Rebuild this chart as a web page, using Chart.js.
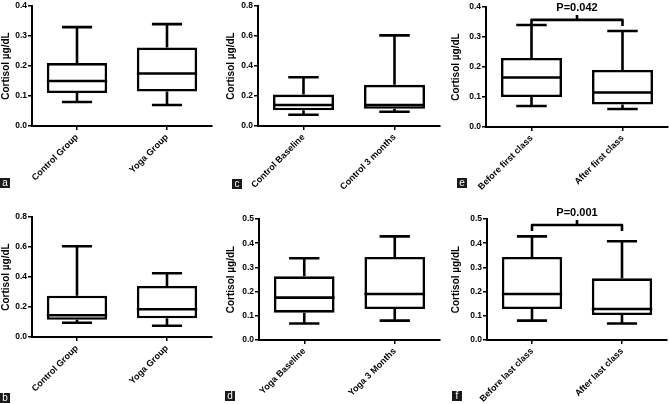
<!DOCTYPE html>
<html>
<head>
<meta charset="utf-8">
<script src="https://cdn.jsdelivr.net/npm/chart.js@4"></script>
<style>
  body { margin: 0; background: #fff; }
  #fig { position: relative; width: 669px; height: 404px; overflow: hidden; }
  .panel { position: absolute; }
  .tag {
    position: absolute; width: 10px; height: 10px; background: #1a1a1a; color: #fff;
    font: 10px "Liberation Sans", Arial, sans-serif; line-height: 9px; text-align: center;
  }
</style>
</head>
<body>
<div id="fig">
  <canvas id="pa" class="panel" style="left:0;top:0" width="225" height="200"></canvas>
  <canvas id="pc" class="panel" style="left:225px;top:0" width="225" height="200"></canvas>
  <canvas id="pe" class="panel" style="left:450px;top:0" width="219" height="200"></canvas>
  <canvas id="pb" class="panel" style="left:0;top:200px" width="225" height="204"></canvas>
  <canvas id="pd" class="panel" style="left:225px;top:200px" width="225" height="204"></canvas>
  <canvas id="pf" class="panel" style="left:450px;top:200px" width="219" height="204"></canvas>
  <div class="tag" style="left:0;top:178px">a</div>
  <div class="tag" style="left:232px;top:179px">c</div>
  <div class="tag" style="left:457px;top:178px">e</div>
  <div class="tag" style="left:0;top:393px">b</div>
  <div class="tag" style="left:225px;top:391px">d</div>
  <div class="tag" style="left:452px;top:391px">f</div>
</div>
<script>
// each box: [min, q1, median, q3, max]
const catsA = ['Control Group', 'Yoga Group'];
const boxA = [[0.08, 0.11, 0.15, 0.21, 0.33], [0.07, 0.115, 0.175, 0.262, 0.34]];

const catsB = ['Control Group', 'Yoga Group'];
const boxB = [[0.095, 0.115, 0.145, 0.275, 0.605], [0.075, 0.125, 0.185, 0.34, 0.425]];

const catsC = ['Control Baseline', 'Control 3 months'];
const boxC = [[0.075, 0.105, 0.14, 0.21, 0.325], [0.095, 0.115, 0.14, 0.275, 0.605]];

const catsD = ['Yoga Baseline', 'Yoga 3 Months'];
const boxD = [[0.068, 0.113, 0.175, 0.263, 0.338], [0.08, 0.128, 0.19, 0.343, 0.428]];

const catsE = ['Before first class', 'After first class'];
const boxE = [[0.07, 0.10, 0.165, 0.23, 0.34], [0.06, 0.075, 0.115, 0.19, 0.32]];

const catsF = ['Before last class', 'After last class'];
const boxF = [[0.08, 0.128, 0.19, 0.343, 0.428], [0.068, 0.103, 0.128, 0.255, 0.408]];

const yMaxes = [0.4, 0.8, 0.8, 0.5, 0.4, 0.5];   // a b c d e f
const ySteps = [0.1, 0.2, 0.2, 0.1, 0.1, 0.1];

const pLabels = ['P=0.042', 'P=0.001'];       // e, f
const pLevels = [0.357, 0.475];

const FONT = '"Liberation Sans", Arial, sans-serif';
const LW = 2.6;

// draws whiskers, caps, medians and the optional significance bracket
const boxPlugin = {
    id: 'boxWhisker',
    afterDatasetsDraw(chart, args, opts) {
        const ctx = chart.ctx;
        const y = chart.scales.y;
        const meta = chart.getDatasetMeta(0);
        const boxes = opts.boxes;
        ctx.save();
        ctx.strokeStyle = '#000';
        ctx.lineWidth = LW;
        ctx.lineCap = 'butt';
        meta.data.forEach((bar, i) => {
            const b = boxes[i];
            const hw = bar.width / 2;
            const cap = bar.width / 4;
            const yMin = y.getPixelForValue(b[0]);
            const yQ1 = y.getPixelForValue(b[1]);
            const yMed = y.getPixelForValue(b[2]);
            const yQ3 = y.getPixelForValue(b[3]);
            const yMax = y.getPixelForValue(b[4]);
            ctx.beginPath();
            ctx.moveTo(bar.x - hw, yMed); ctx.lineTo(bar.x + hw, yMed);
            ctx.moveTo(bar.x, yQ3); ctx.lineTo(bar.x, yMax);
            ctx.moveTo(bar.x - cap, yMax); ctx.lineTo(bar.x + cap, yMax);
            ctx.moveTo(bar.x, yQ1); ctx.lineTo(bar.x, yMin);
            ctx.moveTo(bar.x - cap, yMin); ctx.lineTo(bar.x + cap, yMin);
            ctx.stroke();
        });
        if (opts.pLabel) {
            const x0 = meta.data[0].x, x1 = meta.data[1].x;
            const xm = (x0 + x1) / 2;
            const yl = y.getPixelForValue(opts.pLevel);
            ctx.lineJoin = 'round';
            ctx.beginPath();
            ctx.moveTo(x0, yl + 6); ctx.lineTo(x0, yl); ctx.lineTo(x1, yl); ctx.lineTo(x1, yl + 6);
            ctx.moveTo(xm, yl); ctx.lineTo(xm, yl - 5);
            ctx.stroke();
            ctx.fillStyle = '#000';
            ctx.font = 'bold 11px ' + FONT;
            ctx.textAlign = 'center';
            ctx.textBaseline = 'alphabetic';
            ctx.fillText(opts.pLabel, xm, yl - 9);
        }
        ctx.restore();
    }
};

function makePanel(id, cats, boxes, yMax, yStep, fit, pLabel, pLevel) {
    new Chart(document.getElementById(id), {
        type: 'bar',
        data: {
            labels: cats,
            datasets: [{
                data: boxes.map(b => [b[1], b[3]]),
                backgroundColor: '#fff',
                borderColor: '#000',
                borderWidth: LW,
                borderSkipped: false,
                barPercentage: 0.67,
                categoryPercentage: 1
            }]
        },
        options: {
            responsive: false,
            animation: false,
            layout: { padding: { top: fit.top, right: fit.right, left: 0, bottom: 0 } },
            plugins: {
                legend: { display: false },
                tooltip: { enabled: false },
                boxWhisker: { boxes: boxes, pLabel: pLabel, pLevel: pLevel }
            },
            scales: {
                x: {
                    grid: { offset: false, drawOnChartArea: false, tickLength: 4, color: '#000', lineWidth: 1.5 },
                    border: { color: '#000', width: 2 },
                    ticks: { minRotation: 45, maxRotation: 45, color: '#000', padding: 2,
                             font: { family: FONT, size: 9, weight: 'bold' } },
                    afterFit: s => { s.height = fit.xh; }
                },
                y: {
                    min: 0,
                    max: yMax,
                    grid: { drawOnChartArea: false, tickLength: 4, color: '#000', lineWidth: 1.5 },
                    border: { color: '#000', width: 2 },
                    ticks: { stepSize: yStep, color: '#000', padding: 1,
                             font: { family: FONT, size: 8.5, weight: 'bold' },
                             callback: v => v.toFixed(1) },
                    title: { display: true, text: 'Cortisol µg/dL', color: '#000', padding: 0,
                             font: { family: FONT, size: 10, weight: 'bold' } },
                    afterFit: s => { s.width = fit.yw; }
                }
            }
        },
        plugins: [boxPlugin]
    });
}

makePanel('pa', catsA, boxA, yMaxes[0], ySteps[0], { yw: 32, xh: 74, top: 6, right: 13 });
makePanel('pb', catsB, boxB, yMaxes[1], ySteps[1], { yw: 32, xh: 67, top: 17, right: 13 });
makePanel('pc', catsC, boxC, yMaxes[2], ySteps[2], { yw: 33, xh: 74, top: 6, right: 10 });
makePanel('pd', catsD, boxD, yMaxes[3], ySteps[3], { yw: 34, xh: 64, top: 19, right: 10 });
makePanel('pe', catsE, boxE, yMaxes[4], ySteps[4], { yw: 36, xh: 73, top: 7, right: 1 }, pLabels[0], pLevels[0]);
makePanel('pf', catsF, boxF, yMaxes[5], ySteps[5], { yw: 37, xh: 64, top: 19, right: 2 }, pLabels[1], pLevels[1]);
</script>
</body>
</html>
